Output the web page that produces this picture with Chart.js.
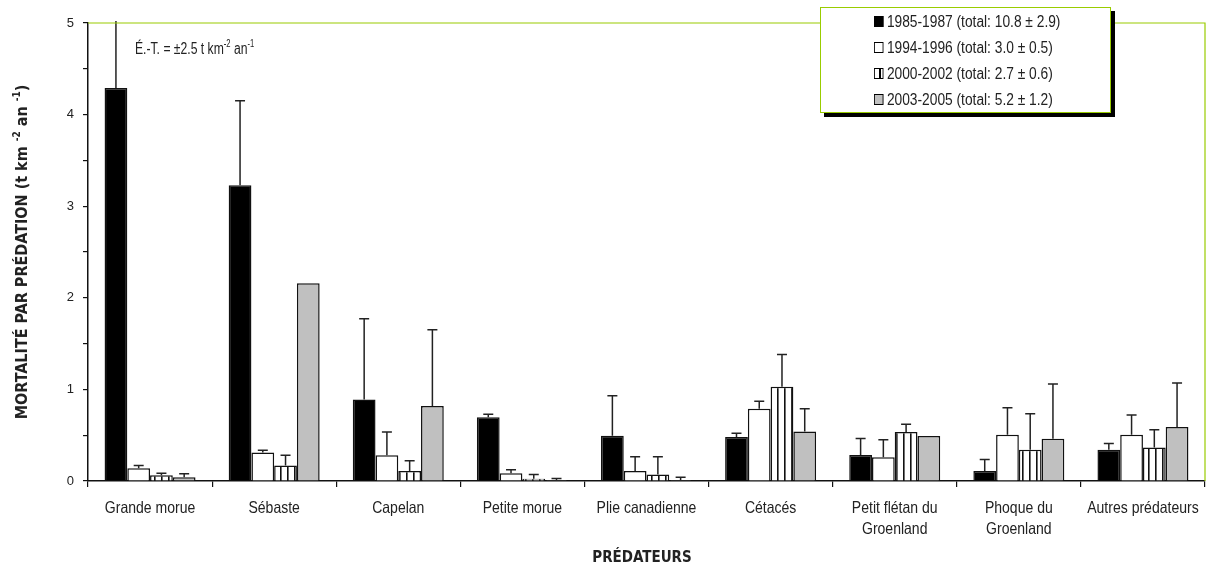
<!DOCTYPE html>
<html>
<head>
<meta charset="utf-8">
<script src="https://cdn.jsdelivr.net/npm/chart.js@4"></script>
<style>
  body { margin: 0; background: #fff; }
  #wrap { position: relative; width: 1206px; height: 569px; font-family: 'Liberation Sans', Arial, sans-serif; color: #222; }
  #legend { position: absolute; left: 820px; top: 7px; width: 291px; height: 106px; border: 1px solid #99cc00; background: #fff; box-shadow: 4px 4px 0 #000; box-sizing: border-box; }
  .row { position: absolute; left: 53px; font-size: 16px; line-height: 16px; white-space: nowrap; transform: scaleX(0.86); transform-origin: left center; }
  .sw { display: inline-block; width: 9px; height: 9px; border: 1.5px solid #000; margin-right: 4px; vertical-align: 0px; }
  #note { position: absolute; left: 135px; top: 41px; font-size: 16px; line-height: 16px; white-space: nowrap; transform: scaleX(0.76); transform-origin: left center; }
  sup { font-size: 10px; vertical-align: 7px; line-height: 0; }
  #ytitle { position: absolute; left: 22px; top: 252px; width: 420px; margin-left: -210px; margin-top: -9px; text-align: center; transform: rotate(-90deg); font-family: 'DejaVu Sans Condensed', sans-serif; font-weight: bold; font-size: 16px; line-height: 18px; white-space: nowrap; }
  #ytitle sup { font-size: 10px; vertical-align: 7px; }
  #xtitle { position: absolute; left: 442px; width: 400px; top: 548px; text-align: center; font-family: 'DejaVu Sans Condensed', sans-serif; font-weight: bold; font-size: 15px; line-height: 18px; }
</style>
</head>
<body>
<div id="wrap">
  <canvas id="myChart" width="1206" height="569"></canvas>
  <div id="note">É.-T. = ±2.5 t km<sup>-2</sup> an<sup>-1</sup></div>
  <div id="ytitle">MORTALITÉ PAR PRÉDATION (t km <sup>-2</sup> an <sup>-1</sup>)</div>
  <div id="xtitle">PRÉDATEURS</div>
  <div id="legend"></div>
</div>
<script>
const categories = [['Grande morue'], ['Sébaste'], ['Capelan'], ['Petite morue'], ['Plie canadienne'], ['Cétacés'],
  ['Petit flétan du', 'Groenland'], ['Phoque du', 'Groenland'], ['Autres prédateurs']];

const seriesNames = ['1985-1987 (total: 10.8 ± 2.9)', '1994-1996 (total: 3.0 ± 0.5)',
  '2000-2002 (total: 2.7 ± 0.6)', '2003-2005 (total: 5.2 ± 1.2)'];

const s1985 = [4.29, 3.23, 0.89, 0.695, 0.495, 0.48, 0.284, 0.11, 0.34];
const s1994 = [0.14, 0.31, 0.28, 0.084, 0.11, 0.79, 0.26, 0.505, 0.505];
const s2000 = [0.062, 0.17, 0.11, 0.025, 0.07, 1.03, 0.535, 0.34, 0.365];
const s2003 = [0.04, 2.16, 0.82, 0.011, 0.01, 0.54, 0.49, 0.46, 0.59];

// ecart-type (upper bar only)
const e1985 = [2.5, 0.92, 0.88, 0.035, 0.435, 0.04, 0.18, 0.125, 0.07];
const e1994 = [0.03, 0.025, 0.255, 0.04, 0.155, 0.08, 0.19, 0.295, 0.215];
const e2000 = [0.022, 0.11, 0.11, 0.045, 0.195, 0.35, 0.085, 0.395, 0.195];
const e2003 = [0.04, 0, 0.83, 0.015, 0.03, 0.25, 0, 0.6, 0.48];

const yTicks = [0, 1, 2, 3, 4, 5];

// striped fill for 2000-2002
const pc = document.createElement('canvas');
pc.width = 7; pc.height = 7;
const px = pc.getContext('2d');
px.fillStyle = '#fff'; px.fillRect(0, 0, 7, 7);
px.fillStyle = '#111'; px.fillRect(0, 0, 1.6, 7);
const stripes = document.getElementById('myChart').getContext('2d').createPattern(pc, 'repeat');

const fills = ['#000', '#fff', stripes, '#c0c0c0'];
const swatchCss = ['#000', '#fff', 'linear-gradient(to right,#fff 50%,#000 50%,#000 75%,#fff 75%)', '#c0c0c0'];
const values = [s1985, s1994, s2000, s2003];
const errors = [e1985, e1994, e2000, e2003];

// html legend
const leg = document.getElementById('legend');
seriesNames.forEach((n, i) => {
  const r = document.createElement('div');
  r.className = 'row';
  r.style.top = (6 + i * 26) + 'px';
  r.innerHTML = '<span class="sw" style="background:' + swatchCss[i] + '"></span>' + n;
  leg.appendChild(r);
});

const errorBars = {
  id: 'errorBars',
  afterDatasetsDraw(chart) {
    const c = chart.ctx, y = chart.scales.y, area = chart.chartArea;
    c.save();
    c.strokeStyle = '#222';
    c.lineWidth = 1.5;
    chart.data.datasets.forEach((ds, i) => {
      chart.getDatasetMeta(i).data.forEach((bar, j) => {
        const err = errors[i][j];
        if (!err) return;
        const top = y.getPixelForValue(ds.data[j] + err);
        const yt = Math.max(top, area.top - 2);
        c.beginPath();
        c.moveTo(bar.x, bar.y);
        c.lineTo(bar.x, yt);
        if (top >= area.top) {
          c.moveTo(bar.x - 5, top);
          c.lineTo(bar.x + 5, top);
        }
        c.stroke();
      });
    });
    c.restore();
  }
};

// green frame + narrow category labels
const frame = {
  id: 'frame',
  afterDraw(chart) {
    const c = chart.ctx, a = chart.chartArea, xs = chart.scales.x;
    c.save();
    c.strokeStyle = '#99cc00';
    c.lineWidth = 1.2;
    c.beginPath();
    c.moveTo(a.left, a.top);
    c.lineTo(a.right, a.top);
    c.lineTo(a.right, a.bottom);
    c.stroke();

    c.fillStyle = '#222';
    c.font = "16.5px 'Liberation Sans', Arial, sans-serif";
    c.textAlign = 'center';
    c.textBaseline = 'middle';
    categories.forEach((lines, i) => {
      const x = xs.getPixelForValue(i);
      lines.forEach((t, k) => {
        c.save();
        c.translate(x, xs.top + 27 + k * 21);
        c.scale(0.85, 1);
        c.fillText(t, 0, 0);
        c.restore();
      });
    });
    c.restore();
  }
};

Chart.defaults.font.family = "'Liberation Sans', Arial, sans-serif";
Chart.defaults.color = '#222';

new Chart(document.getElementById('myChart'), {
  type: 'bar',
  data: {
    labels: categories,
    datasets: values.map((v, i) => ({
      label: seriesNames[i],
      data: v,
      backgroundColor: fills[i],
      borderColor: '#111',
      borderWidth: 1.5,
      borderSkipped: 'bottom',
      categoryPercentage: 0.733,
      barPercentage: 1
    }))
  },
  options: {
    responsive: false,
    animation: false,
    layout: { padding: { top: 23, right: 1, left: 0, bottom: 0 } },
    plugins: { legend: { display: false }, tooltip: { enabled: false } },
    scales: {
      x: {
        grid: { display: true, drawOnChartArea: false, offset: true, tickLength: 6, color: '#111', lineWidth: 1.2 },
        border: { color: '#111', width: 1.5 },
        ticks: { display: false },
        afterFit: s => { s.height = 88; }
      },
      y: {
        min: 0,
        max: 5,
        grid: { display: true, drawOnChartArea: false, tickLength: 5, color: '#111', lineWidth: 1.2 },
        border: { color: '#111', width: 1.5 },
        ticks: {
          stepSize: 0.5,
          padding: 9,
          font: { size: 13 },
          callback: v => yTicks.includes(v) ? String(v) : ''
        },
        afterFit: s => { s.width = 88; }
      }
    }
  },
  plugins: [errorBars, frame]
});
</script>
</body>
</html>
